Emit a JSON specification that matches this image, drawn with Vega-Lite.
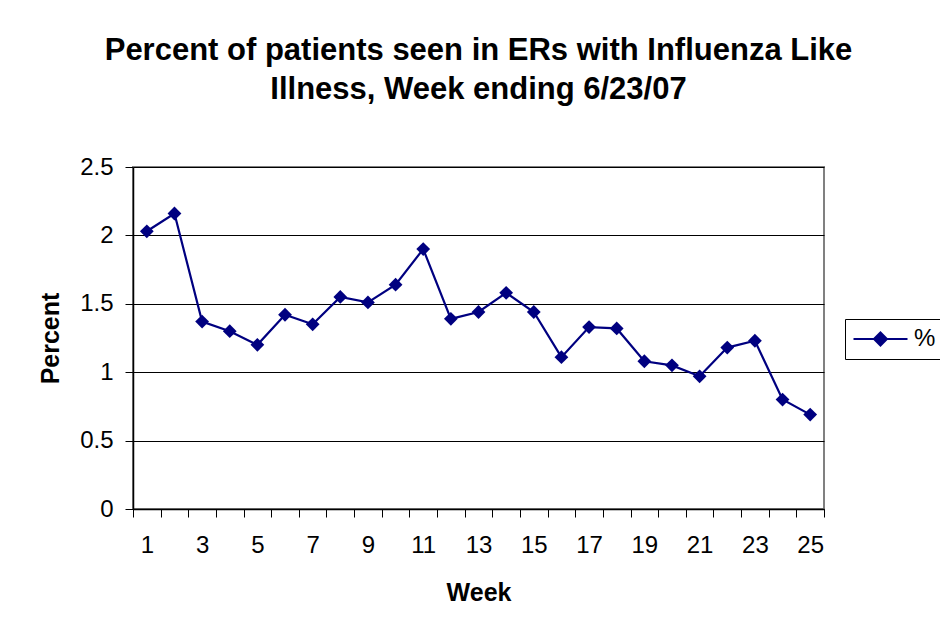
{
  "$schema": "https://vega.github.io/schema/vega-lite/v6.json",
  "width": 691,
  "height": 342,
  "autosize": {"type": "none"},
  "padding": {"left": 133, "top": 167, "right": 116, "bottom": 118},
  "background": "white",
  "title": {
    "text": ["Percent of patients seen in ERs with Influenza Like", "Illness, Week ending 6/23/07"],
    "font": "Liberation Sans",
    "fontSize": 31,
    "fontWeight": "bold",
    "color": "#000000",
    "lineHeight": 39,
    "anchor": "middle",
    "offset": 49
  },
  "config": {
    "font": "Liberation Sans",
    "view": {"stroke": "#808080", "strokeWidth": 2}
  },
  "data": {
    "values": [
      {"week": 1, "pct": 2.03},
      {"week": 2, "pct": 2.16},
      {"week": 3, "pct": 1.37},
      {"week": 4, "pct": 1.30},
      {"week": 5, "pct": 1.20},
      {"week": 6, "pct": 1.42},
      {"week": 7, "pct": 1.35},
      {"week": 8, "pct": 1.55},
      {"week": 9, "pct": 1.51},
      {"week": 10, "pct": 1.64},
      {"week": 11, "pct": 1.90},
      {"week": 12, "pct": 1.39},
      {"week": 13, "pct": 1.44},
      {"week": 14, "pct": 1.58},
      {"week": 15, "pct": 1.44},
      {"week": 16, "pct": 1.11},
      {"week": 17, "pct": 1.33},
      {"week": 18, "pct": 1.32},
      {"week": 19, "pct": 1.08},
      {"week": 20, "pct": 1.05},
      {"week": 21, "pct": 0.97},
      {"week": 22, "pct": 1.18},
      {"week": 23, "pct": 1.23},
      {"week": 24, "pct": 0.80},
      {"week": 25, "pct": 0.69}
    ]
  },
  "encoding": {
    "x": {
      "field": "week",
      "type": "ordinal",
      "scale": {"type": "band", "paddingInner": 0, "paddingOuter": 0},
      "axis": {
        "title": "Week",
        "titleFont": "Liberation Sans",
        "titleFontSize": 25,
        "titleFontWeight": "bold",
        "titleColor": "#000000",
        "titlePadding": 23,
        "labelAngle": 0,
        "labelFont": "Liberation Sans",
        "labelFontSize": 24,
        "labelColor": "#000000",
        "labelPadding": 16,
        "labelExpr": "datum.value % 2 == 1 ? datum.label : ''",
        "tickBand": "extent",
        "tickSize": 8,
        "tickColor": "#000000",
        "domainColor": "#000000",
        "domainWidth": 1.5,
        "grid": false
      }
    },
    "y": {
      "field": "pct",
      "type": "quantitative",
      "scale": {"domain": [0, 2.5], "nice": false},
      "axis": {
        "title": "Percent",
        "titleFont": "Liberation Sans",
        "titleFontSize": 25,
        "titleFontWeight": "bold",
        "titleColor": "#000000",
        "titlePadding": 16,
        "values": [0, 0.5, 1, 1.5, 2, 2.5],
        "format": ".1~f",
        "labelFont": "Liberation Sans",
        "labelFontSize": 24,
        "labelColor": "#000000",
        "labelPadding": 12,
        "tickSize": 8,
        "tickColor": "#000000",
        "domainColor": "#000000",
        "domainWidth": 1.5,
        "grid": true,
        "gridColor": "#000000",
        "gridWidth": 1
      }
    },
    "color": {
      "datum": "%",
      "scale": {"range": ["#000080"]},
      "legend": {
        "title": null,
        "orient": "none",
        "legendX": 712,
        "legendY": 152,
        "padding": 8,
        "strokeColor": "#000000",
        "fillColor": "#ffffff",
        "symbolType": "M-1.77,0L6.54,0M1.38,0L2.38,-1L3.38,0L2.38,1Z",
        "symbolSize": 169,
        "symbolFillColor": "#000080",
        "symbolStrokeColor": "#000080",
        "symbolStrokeWidth": 2,
        "labelFont": "Liberation Sans",
        "labelFontSize": 24,
        "labelColor": "#000000",
        "labelOffset": 37
      }
    }
  },
  "layer": [
    {"mark": {"type": "line", "strokeWidth": 2.2}},
    {"mark": {"type": "point", "shape": "diamond", "filled": true, "size": 190, "opacity": 1}}
  ]
}
